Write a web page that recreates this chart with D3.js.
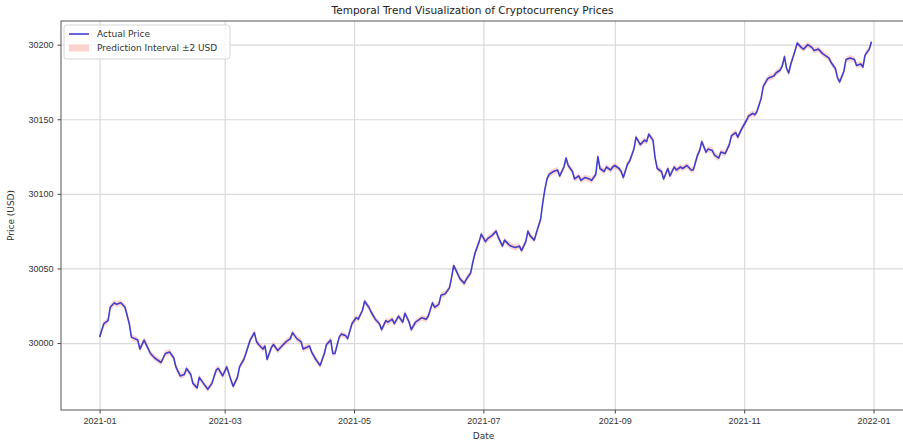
<!DOCTYPE html>
<html>
<head>
<meta charset="utf-8">
<script src="https://cdn.jsdelivr.net/npm/d3@7"></script>
<style>
  body { margin: 0; background: #fff; }
  svg { display: block; font-family: "DejaVu Sans", sans-serif; }
  .tick text { fill: #333; font-size: 9px; }
</style>
</head>
<body>
<svg width="903" height="444"></svg>
<script>
// days since 2021-01-01
var dayIndex = [0, 2, 4, 5, 7, 8, 10, 12, 14, 15, 18, 19, 21, 22, 24, 26, 29, 31, 33, 35,
  36, 38, 40, 41, 43, 44, 46, 47, 49, 51, 53, 55, 56, 58, 60, 62, 63, 65, 66, 68,
  69, 71, 73, 74, 75, 77, 78, 79, 81, 82, 84, 86, 88, 90, 91, 93, 95, 96, 99, 100,
  102, 104, 106, 107, 109, 110, 111, 113, 114, 116, 117, 119, 121, 122, 124, 125, 127, 128, 130, 132,
  133, 135, 136, 138, 139, 141, 143, 144, 146, 147, 149, 150, 152, 154, 155, 157, 158, 160, 161, 163,
  165, 166, 167, 168, 170, 172, 173, 175, 176, 177, 179, 180, 182, 183, 185, 187, 188, 190, 191, 193,
  194, 196, 198, 199, 201, 202, 203, 205, 206, 208, 209, 210, 211, 212, 214, 216, 217, 219, 220, 221,
  223, 224, 226, 227, 229, 231, 232, 234, 235, 236, 238, 239, 241, 242, 243, 245, 246, 247, 249, 250,
  252, 253, 255, 257, 258, 259, 261, 262, 263, 265, 266, 268, 269, 271, 272, 274, 275, 277, 279, 280,
  282, 283, 284, 286, 287, 289, 290, 292, 293, 295, 297, 298, 300, 301, 303, 305, 306, 308, 309, 310,
  312, 313, 315, 316, 318, 319, 321, 322, 323, 324, 325, 326, 328, 329, 331, 332, 334, 336, 337, 339,
  341, 342, 344, 345, 347, 348, 349, 351, 352, 354, 356, 357, 359, 360, 361, 363, 364];

var price = [30004, 30013, 30015, 30024, 30027, 30026, 30027, 30024, 30013, 30004, 30002, 29996, 30002, 29999, 29993, 29990, 29987, 29993, 29994, 29990,
  29984, 29978, 29979, 29983, 29979, 29973, 29970, 29977, 29973, 29969, 29973, 29982, 29983, 29978, 29984, 29975, 29971, 29977, 29984, 29989,
  29993, 30002, 30007, 30001, 29999, 29996, 29998, 29989, 29997, 29999, 29995, 29998, 30001, 30003, 30007, 30003, 30001, 29996, 29998, 29994,
  29989, 29985, 29993, 29999, 30002, 29993, 29993, 30004, 30006, 30005, 30003, 30013, 30017, 30016, 30022, 30028, 30024, 30021, 30016, 30013,
  30009, 30015, 30014, 30016, 30013, 30018, 30014, 30020, 30014, 30009, 30014, 30015, 30017, 30016, 30018, 30027, 30024, 30026, 30032, 30033,
  30037, 30044, 30052, 30049, 30043, 30040, 30043, 30047, 30054, 30060, 30068, 30073, 30068, 30070, 30072, 30075, 30071, 30065, 30069, 30066,
  30065, 30064, 30065, 30062, 30068, 30075, 30072, 30069, 30074, 30083, 30094, 30103, 30110, 30113, 30115, 30116, 30112, 30118, 30124, 30119,
  30115, 30110, 30112, 30109, 30111, 30110, 30109, 30113, 30125, 30117, 30115, 30118, 30116, 30118, 30119, 30117, 30115, 30111, 30120, 30122,
  30130, 30138, 30133, 30136, 30135, 30140, 30136, 30124, 30117, 30115, 30110, 30117, 30112, 30118, 30116, 30118, 30117, 30119, 30116, 30116,
  30126, 30129, 30135, 30128, 30130, 30129, 30126, 30124, 30128, 30127, 30133, 30139, 30141, 30138, 30144, 30149, 30152, 30154, 30153, 30155,
  30164, 30172, 30177, 30178, 30179, 30181, 30183, 30186, 30192, 30184, 30181, 30187, 30196, 30201, 30198, 30197, 30200, 30198, 30196, 30197,
  30194, 30193, 30191, 30188, 30184, 30178, 30175, 30182, 30190, 30191, 30190, 30186, 30187, 30185, 30193, 30197, 30202];

var bandHalf = 2;   // prediction interval +-2 USD
var yTickValues = [30000, 30050, 30100, 30150, 30200];

var svg = d3.select("svg"),
    width = +svg.attr("width"),
    height = +svg.attr("height");

var plotLeft = 61, plotTop = 21, plotW = 849, plotH = 389;

var start = new Date(2021, 0, 1);
var data = dayIndex.map(function(d, i) {
  return { date: d3.timeDay.offset(start, d), price: price[i] };
});

// matplotlib style 5% padding
var xExt = d3.extent(data, function(d) { return d.date; });
var xPad = (xExt[1] - xExt[0]) * 0.05;
var x = d3.scaleTime()
    .domain([new Date(+xExt[0] - xPad), new Date(+xExt[1] + xPad)])
    .range([plotLeft, plotLeft + plotW]);

var yLo = d3.min(price) - bandHalf, yHi = d3.max(price) + bandHalf;
var yPad = (yHi - yLo) * 0.05;
var y = d3.scaleLinear()
    .domain([yLo - yPad, yHi + yPad])
    .range([plotTop + plotH, plotTop]);

// grid
svg.append("g")
    .attr("transform", "translate(0," + (plotTop + plotH) + ")")
    .call(d3.axisBottom(x).ticks(d3.timeMonth.every(2)).tickSize(-plotH).tickFormat(""))
    .call(function(g) { g.select(".domain").remove(); })
    .selectAll("line").attr("stroke", "#dadada").attr("stroke-width", 1.2);

svg.append("g")
    .attr("transform", "translate(" + plotLeft + ",0)")
    .call(d3.axisLeft(y).tickValues(yTickValues).tickSize(-plotW).tickFormat(""))
    .call(function(g) { g.select(".domain").remove(); })
    .selectAll("line").attr("stroke", "#dadada").attr("stroke-width", 1.2);

// prediction band
var area = d3.area()
    .x(function(d) { return x(d.date); })
    .y0(function(d) { return y(d.price - bandHalf); })
    .y1(function(d) { return y(d.price + bandHalf); });

svg.append("path")
    .datum(data)
    .attr("d", area)
    .attr("fill", "#fa8072")
    .attr("opacity", 0.35);

var line = d3.line()
    .x(function(d) { return x(d.date); })
    .y(function(d) { return y(d.price); });

svg.append("path")
    .datum(data)
    .attr("d", line)
    .attr("fill", "none")
    .attr("stroke", "#2d2dcc")
    .attr("stroke-width", 1.6)
    .attr("stroke-linejoin", "round")
    .attr("opacity", 0.9);

// axes
var xAxis = svg.append("g")
    .attr("transform", "translate(0," + (plotTop + plotH) + ")")
    .call(d3.axisBottom(x).ticks(d3.timeMonth.every(2)).tickFormat(d3.timeFormat("%Y-%m")).tickSize(3.5).tickPadding(4));
xAxis.select(".domain").remove();
xAxis.selectAll("line").attr("stroke", "#444");

var yAxis = svg.append("g")
    .attr("transform", "translate(" + plotLeft + ",0)")
    .call(d3.axisLeft(y).tickValues(yTickValues).tickFormat(d3.format("d")).tickSize(3.5).tickPadding(4));
yAxis.select(".domain").remove();
yAxis.selectAll("line").attr("stroke", "#444");

// frame
svg.append("rect")
    .attr("x", plotLeft).attr("y", plotTop)
    .attr("width", plotW).attr("height", plotH)
    .attr("fill", "none")
    .attr("stroke", "#555")
    .attr("stroke-width", 1);

// titles
svg.append("text")
    .attr("x", plotLeft + plotW / 2 - 13)
    .attr("y", 14)
    .attr("text-anchor", "middle")
    .attr("font-size", 10.5)
    .attr("fill", "#222")
    .text("Temporal Trend Visualization of Cryptocurrency Prices");

svg.append("text")
    .attr("x", plotLeft + plotW / 2 - 2)
    .attr("y", 439)
    .attr("text-anchor", "middle")
    .attr("font-size", 9)
    .attr("fill", "#333")
    .text("Date");

svg.append("text")
    .attr("transform", "translate(14," + (plotTop + plotH / 2) + ") rotate(-90)")
    .attr("text-anchor", "middle")
    .attr("font-size", 9)
    .attr("fill", "#333")
    .text("Price (USD)");

// legend
var legend = svg.append("g").attr("transform", "translate(64,25)");
legend.append("rect")
    .attr("width", 166).attr("height", 34).attr("rx", 2.5)
    .attr("fill", "#fff").attr("fill-opacity", 0.8)
    .attr("stroke", "#d6d6d6");
legend.append("line")
    .attr("x1", 5).attr("x2", 25).attr("y1", 9).attr("y2", 9)
    .attr("stroke", "#2d2dcc").attr("stroke-width", 1.6).attr("opacity", 0.9);
legend.append("rect")
    .attr("x", 5).attr("y", 19.5).attr("width", 20).attr("height", 7)
    .attr("fill", "#fa8072").attr("opacity", 0.35);
legend.append("text")
    .attr("x", 33).attr("y", 12.2)
    .attr("font-size", 9).attr("fill", "#333")
    .text("Actual Price");
legend.append("text")
    .attr("x", 33).attr("y", 26.2)
    .attr("font-size", 9).attr("fill", "#333")
    .text("Prediction Interval ±2 USD");
</script>
</body>
</html>
